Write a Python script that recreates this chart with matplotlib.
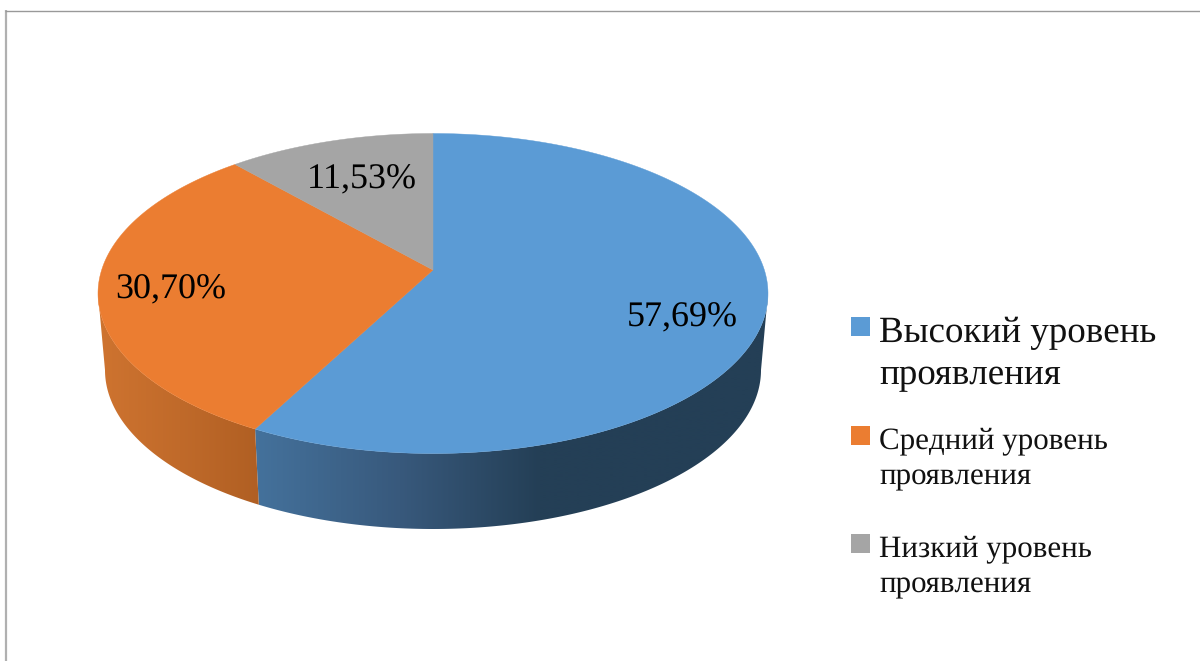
import numpy as np
import matplotlib
matplotlib.use("Agg")
import matplotlib.pyplot as plt
from matplotlib.patches import Polygon, Rectangle

# Data
categories = ["Высокий уровень\nпроявления", "Средний уровень\nпроявления", "Низкий уровень\nпроявления"]
values = [57.69, 30.70, 11.53]
value_labels = ["57,69%", "30,70%", "11,53%"]
colors = ["#5B9BD5", "#EB7D31", "#A5A5A5"]

plt.rcParams["font.family"] = ["Liberation Serif", "DejaVu Serif"]
plt.rcParams["text.hinting"] = "no_hinting"
plt.rcParams["text.hinting_factor"] = 1
W, H = 1200, 661
fig = plt.figure(figsize=(W / 100, H / 100), dpi=100)
ax = fig.add_axes([0, 0, 1, 1])

# Geometry of the tilted disc (pixels)
CX, CY, RX, RY = 433.0, 293.5, 335.0, 160.0
BCX, BCY, BRX, BRY = 433.0, 370.0, 328.0, 159.0
A = 0.147  # perspective shift of the disc centre


def project(theta, cx, cy, rx, ry):
    """Clockwise angle from 12 o'clock (radians) -> point on the perspective ellipse."""
    xp, yp = np.sin(theta), np.cos(theta)
    d = 1 + A * yp
    xe = xp * np.sqrt(1 - A * A) / d
    ye = (yp + A) / d
    return cx + rx * xe, cy - ry * ye


def arc(t0, t1, ell, n=200):
    x, y = project(np.linspace(t0, t1, n), *ell)
    return np.column_stack([x, y])


TOP = (CX, CY, RX, RY)
BOT = (BCX, BCY, BRX, BRY)
apex = (CX, CY - RY * A)

# cumulative angles from data
edges = np.concatenate([[0], np.cumsum(values)]) / np.sum(values) * 2 * np.pi

# front-visible range of angles (silhouette where projected y = 0)
sil = np.arccos(-A)
vis0, vis1 = sil, 2 * np.pi - sil

gradients = [
    ([259, 400, 540, 800], ["#44719B", "#38597C", "#243F56", "#243F56"]),
    ([95, 180, 259], ["#CF7430", "#C06A2A", "#B05F23"]),
]


def hex_rgb(c):
    return np.array(matplotlib.colors.to_rgb(c))


xs = np.arange(80, 800)
for i, (grad_x, grad_c) in enumerate(gradients):
    t0, t1 = max(edges[i], vis0), min(edges[i + 1], vis1)
    if t1 <= t0:
        continue
    poly = np.vstack([arc(t0, t1, TOP), arc(t1, t0, BOT)])
    rgb = np.array([hex_rgb(c) for c in grad_c])
    img = np.stack([np.interp(xs, grad_x, rgb[:, k]) for k in range(3)], axis=-1)[None, :, :]
    clip = Polygon(poly, closed=True, transform=ax.transData, fc="none", ec="none")
    ax.add_patch(clip)
    im = ax.imshow(img, extent=[xs[0], xs[-1], 540, 280], aspect="auto", interpolation="bilinear", zorder=2)
    im.set_clip_path(clip)

# top faces
for i, c in enumerate(colors):
    pts = np.vstack([[apex], arc(edges[i], edges[i + 1], TOP)])
    ax.add_patch(Polygon(pts, closed=True, fc=c, ec=c, lw=0.3, zorder=3))

# value labels
label_pos = [(682, 318), (171, 290), (362, 180)]
for (x, y), s in zip(label_pos, value_labels):
    ax.text(x, y, s, fontsize=26.2, color="black", ha="center", va="center", zorder=4)

# legend
leg_sq_y = [317, 426, 534]
leg_base = [384, 484, 592]
leg_size = [26.8, 22.6, 22.6]
leg_space = [1.32, 1.36, 1.36]
for c, name, sy, by, fs, sp in zip(colors, categories, leg_sq_y, leg_base, leg_size, leg_space):
    ax.add_patch(Rectangle((851, sy), 19, 19, fc=c, ec="none", zorder=3))
    ax.text(879, by, name, fontsize=fs, color="#111111", ha="left", va="baseline",
            linespacing=sp, multialignment="left", zorder=4)

# frame
ax.plot([6, 6], [10, 661], color="#B0B0B0", lw=1.6, zorder=1, solid_capstyle="butt")
ax.plot([5, 1200], [10.5, 10.5], color="#999999", lw=1.0, zorder=1, solid_capstyle="butt")

ax.set_xlim(0, W)
ax.set_ylim(H, 0)
ax.axis("off")
fig.savefig("out.png", dpi=100, facecolor="white")
